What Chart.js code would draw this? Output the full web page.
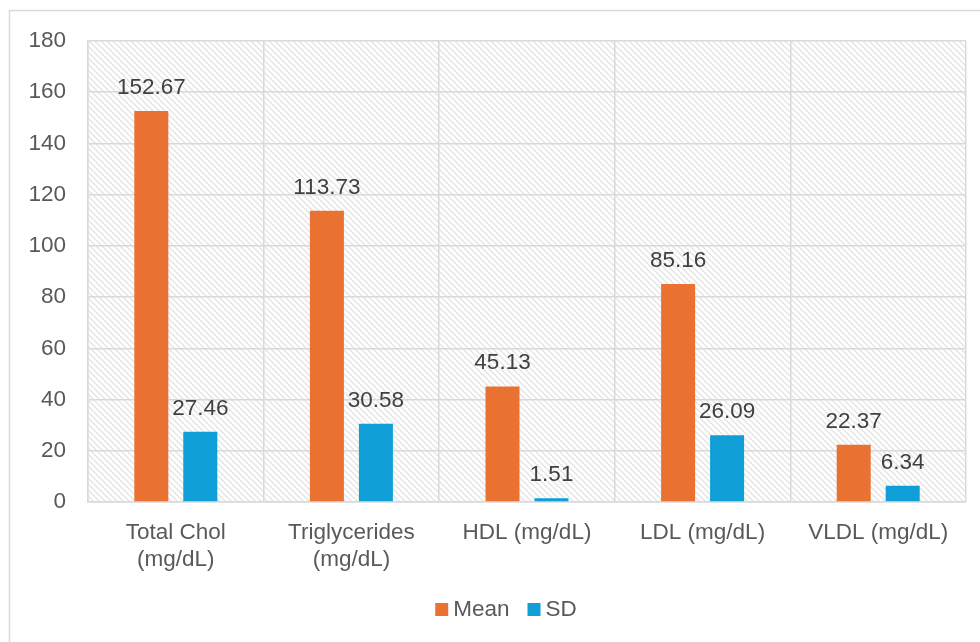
<!DOCTYPE html>
<html>
<head>
<meta charset="utf-8">
<style>
  html, body { margin: 0; padding: 0; background: #ffffff; }
  #wrap { width: 980px; height: 642px; position: relative; }
</style>
<script src="https://cdn.jsdelivr.net/npm/chart.js@4.4.1/dist/chart.umd.min.js"></script>
</head>
<body>
<div id="wrap"><canvas id="chart" width="980" height="642"></canvas></div>
<script>
// Lipid profile summary: mean and standard deviation per parameter
const categories = [
  ['Total Chol', '(mg/dL)'],
  ['Triglycerides', '(mg/dL)'],
  'HDL (mg/dL)',
  'LDL (mg/dL)',
  'VLDL (mg/dL)'
];
const meanValues = [152.67, 113.73, 45.13, 85.16, 22.37];
const sdValues = [27.46, 30.58, 1.51, 26.09, 6.34];
const yTicks = [0, 20, 40, 60, 80, 100, 120, 140, 160, 180];

const FONT = 'Arial, "Liberation Sans", Helvetica, sans-serif';
const FONT_SIZE = 22.5;
const GRID = '#d9d9d9';

// Light downward-diagonal hatch used behind the bars
function makeHatch(ctx) {
  const tile = document.createElement('canvas');
  tile.width = 6; tile.height = 6;
  const t = tile.getContext('2d');
  t.fillStyle = '#ffffff';
  t.fillRect(0, 0, 6, 6);
  t.strokeStyle = '#e3e3e3';
  t.lineWidth = 1.3;
  t.beginPath();
  t.moveTo(-1, -1); t.lineTo(7, 7);
  t.moveTo(-7, -1); t.lineTo(1, 7);
  t.moveTo(5, -1); t.lineTo(13, 7);
  t.stroke();
  return ctx.createPattern(tile, 'repeat');
}

const backdrop = {
  id: 'backdrop',
  beforeDraw(chart) {
    const { ctx, chartArea: a } = chart;
    ctx.save();
    // outer frame
    ctx.strokeStyle = GRID;
    ctx.lineWidth = 1.5;
    ctx.beginPath();
    ctx.moveTo(9.5, chart.height);
    ctx.lineTo(9.5, 10.5);
    ctx.lineTo(chart.width, 10.5);
    ctx.stroke();
    // hatched plot area
    ctx.fillStyle = makeHatch(ctx);
    ctx.fillRect(a.left, a.top, a.right - a.left, a.bottom - a.top);
    ctx.restore();
  }
};

const valueLabels = {
  id: 'valueLabels',
  afterDatasetsDraw(chart) {
    const { ctx } = chart;
    ctx.save();
    ctx.font = FONT_SIZE + 'px ' + FONT;
    ctx.fillStyle = '#404040';
    ctx.textAlign = 'center';
    ctx.textBaseline = 'alphabetic';
    chart.data.datasets.forEach((ds, i) => {
      chart.getDatasetMeta(i).data.forEach((bar, j) => {
        ctx.fillText(ds.data[j].toFixed(2), bar.x, bar.y - 17);
      });
    });
    ctx.restore();
  }
};

const bottomLegend = {
  id: 'bottomLegend',
  afterDraw(chart) {
    const { ctx } = chart;
    const box = 13, gapText = 5, gapItem = 18;
    ctx.save();
    ctx.font = FONT_SIZE + 'px ' + FONT;
    ctx.textBaseline = 'alphabetic';
    ctx.textAlign = 'left';
    const items = chart.data.datasets.map(ds => ({
      label: ds.label, color: ds.backgroundColor,
      w: box + gapText + ctx.measureText(ds.label).width
    }));
    const total = items.reduce((s, it) => s + it.w, 0) + gapItem * (items.length - 1);
    let x = chart.width / 2 + 16 - total / 2;
    const baseline = 616;
    items.forEach(it => {
      ctx.fillStyle = it.color;
      ctx.fillRect(x, 603, box, box);
      ctx.fillStyle = '#595959';
      ctx.fillText(it.label, x + box + gapText, baseline);
      x += it.w + gapItem;
    });
    ctx.restore();
  }
};

new Chart(document.getElementById('chart'), {
  type: 'bar',
  data: {
    labels: categories,
    datasets: [
      { label: 'Mean', data: meanValues, backgroundColor: '#E97132',
        categoryPercentage: 0.558, barPercentage: 0.694 },
      { label: 'SD', data: sdValues, backgroundColor: '#0F9ED5',
        categoryPercentage: 0.558, barPercentage: 0.694 }
    ]
  },
  options: {
    responsive: false,
    animation: false,
    devicePixelRatio: 1,
    layout: { padding: { top: 41, right: 14, bottom: 60, left: 0 } },
    plugins: {
      legend: { display: false },
      tooltip: { enabled: false }
    },
    scales: {
      x: {
        offset: true,
        grid: { offset: true, color: GRID, lineWidth: 1.5, drawTicks: false },
        border: { color: GRID, width: 1.5 },
        ticks: {
          color: '#595959', font: { family: FONT, size: FONT_SIZE },
          maxRotation: 0, autoSkip: false, padding: 17
        },
        afterFit(scale) { scale.height = 80; }
      },
      y: {
        min: 0, max: 180,
        afterBuildTicks(scale) { scale.ticks = yTicks.map(v => ({ value: v })); },
        grid: { color: GRID, lineWidth: 1.5, drawTicks: false },
        border: { color: GRID, width: 1.5 },
        ticks: {
          color: '#595959', font: { family: FONT, size: FONT_SIZE }, padding: 22
        },
        afterFit(scale) { scale.width = 88; }
      }
    }
  },
  plugins: [backdrop, valueLabels, bottomLegend]
});
</script>
</body>
</html>
